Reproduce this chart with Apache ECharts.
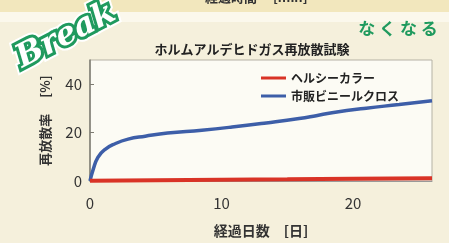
<!DOCTYPE html>
<html>
<head>
<meta charset="utf-8">
<style>
    html, body { margin: 0; padding: 0; background: #f5f0dc; }
    #chart { width: 449px; height: 243px; }
</style>
<script src="https://cdn.jsdelivr.net/npm/echarts@6/dist/echarts.min.js"></script>
</head>
<body>
<div id="chart"></div>
<script>
    // day, percent
    const healthyColor = [[0, 0.1], [5, 0.3], [10, 0.5], [15, 0.7], [20, 0.9], [26, 1.1]];
    const vinylCloth = [[0, 0], [0.25, 4.9], [0.6, 9.8], [1.1, 12.9], [1.9, 15.4], [2.9, 17.3],
        [4.2, 18.5], [5.9, 19.8], [8.5, 21.0], [10.8, 22.3], [13.4, 24.0], [15.9, 25.8],
        [17.2, 27.0], [18.4, 28.2], [21, 30.1], [23.5, 31.6], [26, 33.2]];
    const seriesNames = ['ヘルシーカラー', '市販ビニールクロス'];

    const font = '"Noto Sans CJK JP", "Noto Sans", sans-serif';
    const green = '#1f9a5e';

    let chart = echarts.init(document.getElementById('chart'));
    let option = {
        backgroundColor: '#f5f0dc',
        animation: false,
        textStyle: {fontFamily: font},
        title: {
            text: 'ホルムアルデヒドガス再放散試験',
            left: 247, top: 38, textAlign: 'center',
            textStyle: {fontSize: 13, fontWeight: 'bold', color: '#222', fontFamily: font}
        },
        legend: {
            orient: 'vertical',
            left: 256, top: 67,
            itemWidth: 25, itemHeight: 3, itemGap: 6,
            icon: 'rect',
            textStyle: {fontSize: 12, color: '#222', fontWeight: 'bold'},
            data: seriesNames
        },
        grid: {
            left: 90, top: 60, right: 17, bottom: 50,
            show: true, backgroundColor: '#fcfbf4', borderColor: '#b5b2a5', borderWidth: 1
        },
        xAxis: {
            type: 'value', min: 0, max: 26, interval: 10,
            name: '経過日数　[日]', nameLocation: 'middle', nameGap: 43,
            nameTextStyle: {fontSize: 14, color: '#333', fontWeight: 'bold'},
            axisLine: {lineStyle: {color: '#999'}},
            axisTick: {show: false},
            splitLine: {show: false},
            axisLabel: {fontSize: 15, color: '#333', margin: 15, showMaxLabel: false}
        },
        yAxis: {
            type: 'value', min: 0, max: 50, interval: 20,
            name: '再放散率　 [%]', nameLocation: 'middle', nameGap: 38, nameRotate: 90,
            nameTextStyle: {fontSize: 13, color: '#333', fontWeight: 'bold'},
            axisLine: {show: true, lineStyle: {color: '#7d7b72', width: 1.5}},
            axisTick: {show: true, inside: true, length: 4, lineStyle: {color: '#7d7b72'}},
            splitLine: {show: false},
            axisLabel: {fontSize: 15, color: '#333', margin: 8, showMaxLabel: false}
        },
        graphic: [
            {type: 'rect', left: 0, top: 0, shape: {width: 449, height: 12}, style: {fill: '#f2e7bd'}, z: -1},
            {type: 'rect', left: 0, top: 12, shape: {width: 449, height: 10}, style: {fill: '#fbf8ec'}, z: -1},
            {type: 'text', left: 205, top: -9, style: {text: '経過時間　 [min]', fill: '#333', font: 'bold 13px ' + font}},
            {type: 'text', x: 66, y: 36, rotation: 0.48,
                style: {text: 'Break', fill: green, stroke: '#fff', lineWidth: 10,
                    font: 'italic bold 32px "DejaVu Serif", serif', align: 'center', verticalAlign: 'middle'}},
            {type: 'text', x: 66, y: 36, rotation: 0.48,
                style: {text: 'Break', fill: '#fff', stroke: green, lineWidth: 6,
                    font: 'italic bold 32px "DejaVu Serif", serif', align: 'center', verticalAlign: 'middle'}},
            {type: 'text', x: 398, y: 29,
                style: {text: 'な く な る', fill: green, font: 'bold 17px ' + font,
                    align: 'center', verticalAlign: 'middle'}}
        ],
        series: [
            {
                name: seriesNames[0], type: 'line', data: healthyColor, smooth: true,
                showSymbol: false, color: '#d93326', lineStyle: {width: 4}, z: 3
            },
            {
                name: seriesNames[1], type: 'line', data: vinylCloth, smooth: true,
                showSymbol: false, color: '#3d5ea8', lineStyle: {width: 3.5}, z: 2
            }
        ]
    };
    chart.setOption(option, true);
</script>
</body>
</html>
